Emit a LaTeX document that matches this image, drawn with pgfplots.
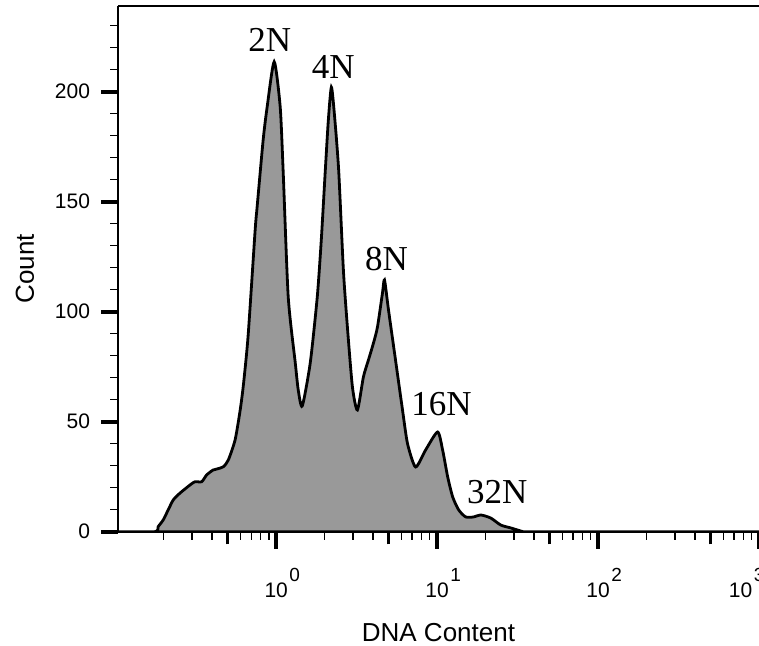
\documentclass[border=0pt]{standalone}
\usepackage{pgfplots}
\pgfplotsset{compat=1.18}
\usepackage{pgfplotstable}
\usepackage{fontspec}
\setmainfont{Liberation Sans}
\newfontfamily\serif{Liberation Serif}
\definecolor{histgray}{RGB}{153,153,153}
\newcommand{\dec}[1]{10\rlap{\kern0.8pt\raisebox{8pt}{\fontsize{9.5}{10}\selectfont #1}}}
\pgfplotstableread{
x y
0.104 0
0.1762 0
0.1848 2.3
0.1985 5.3
0.2133 9.9
0.2292 14.4
0.2522 17.5
0.2912 21.2
0.3129 22.7
0.3444 22.7
0.3700 25.8
0.4050 28.0
0.4290 28.5
0.4695 29.5
0.5044 32.6
0.5555 41.7
0.5967 55
0.6256 66.7
0.6692 89
0.7400 137
0.7615 147.6
0.8299 178
0.8788 193
0.9717 213.5
1.059 193
1.106 163
1.188 106.7
1.314 76.7
1.371 64.4
1.452 57.1
1.628 76.7
1.800 106.7
1.907 132.6
2.020 164.4
2.109 187
2.202 202
2.298 190
2.444 164.4
2.615 119
2.770 93
2.976 65.8
3.196 55.3
3.483 70.3
3.743 78
4.022 85.7
4.259 93
4.575 108.4
4.709 114.4
4.986 100.8
5.514 78
6.095 55.3
6.549 40
7.345 29.4
8.479 37.1
10.07 45.3
10.82 37.1
11.63 24.9
12.49 15.8
13.61 9.9
15.05 6.7
16.89 6.7
18.66 7.6
21.54 6.2
24.87 3.0
28.71 1.7
33.13 0.3
35.6 0
1000 0
}\hist
\begin{document}
\begin{tikzpicture}
\begin{axis}[name=ax, scale only axis, width=320.5pt, height=263pt,
  xmode=log, xmin=0.104, xmax=1000, ymin=0, ymax=239,
  axis lines*=left, axis line style={line width=0.9pt, black},
  tick align=outside,
  ytick={0,50,100,150,200},
  minor ytick={10,20,30,40,60,70,80,90,110,120,130,140,160,170,180,190,210,220,230},
  xtick={1,10,100,1000},
  xticklabels={\dec{0},\dec{1},\dec{2},\rlap{\kern-15pt\dec{3}}},
  minor xtick={0.2,0.3,0.4,0.6,0.7,0.8,0.9,2,3,4,6,7,8,9,20,30,40,60,70,80,90,200,300,400,600,700,800,900},
  extra x ticks={0.5,5,50,500}, extra x tick labels={},
  extra x tick style={major tick length=6.3pt, major tick style={line width=1.5pt, black}},
  major tick length=8.5pt, minor tick length=4pt,
  major tick style={line width=2pt, black},
  minor tick style={line width=0.7pt, black},
  /pgf/number format/assume math mode=true,
  yticklabel style={font=\fontsize{10.5}{12}\selectfont, xshift=-2pt},
  xticklabel style={font=\fontsize{10.5}{12}\selectfont, anchor=base, yshift=-24.5pt},
  xlabel={DNA Content}, ylabel={Count},
  xlabel style={font=\fontsize{13}{15}\selectfont, at={(axis description cs:0.5,0)}, anchor=center, yshift=-50.5pt},
  ylabel style={font=\fontsize{13}{15}\selectfont, at={(axis description cs:0,0.5)}, anchor=center, yshift=46.5pt},
]
\addplot[draw=black, line width=1.4pt, fill=histgray, smooth, tension=0.4] table {\hist} \closedcycle;
\draw[line width=0.9pt] (rel axis cs:0,1) -- (rel axis cs:1,1);
\node[font=\serif\fontsize{17.5}{20}\selectfont, inner sep=0] at (axis cs:0.911,223.5) {2N};
\node[font=\serif\fontsize{17.5}{20}\selectfont, inner sep=0] at (axis cs:2.265,211) {4N};
\node[font=\serif\fontsize{17.5}{20}\selectfont, inner sep=0] at (axis cs:4.846,124) {8N};
\node[font=\serif\fontsize{17.5}{20}\selectfont, inner sep=0] at (axis cs:10.66,58) {16N};
\node[font=\serif\fontsize{17.5}{20}\selectfont, inner sep=0] at (axis cs:23.65,18) {32N};
\end{axis}
\pgfresetboundingbox
\path[use as bounding box] ([xshift=-59pt,yshift=-56.7pt]ax.south west) rectangle ([yshift=2.85pt]ax.north east);
\end{tikzpicture}
\end{document}
